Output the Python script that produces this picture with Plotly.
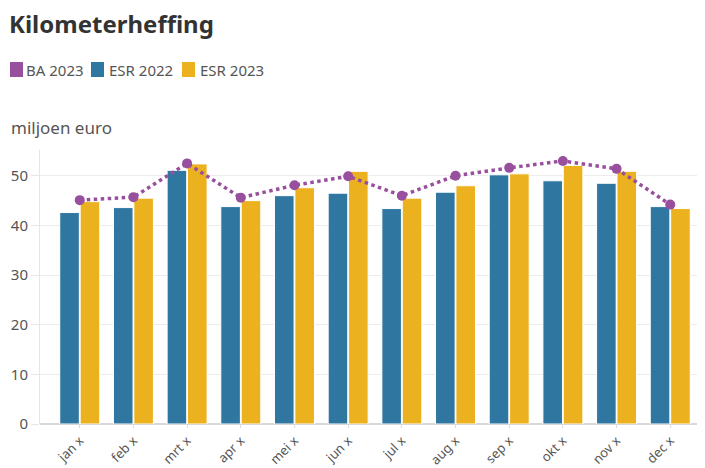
import plotly.graph_objects as go

months = ["jan x", "feb x", "mrt x", "apr x", "mei x", "jun x",
          "jul x", "aug x", "sep x", "okt x", "nov x", "dec x"]
esr_2022 = [42.6, 43.6, 51.1, 43.8, 46.0, 46.5, 43.4, 46.7, 50.2, 49.0, 48.5, 43.8]
esr_2023 = [44.8, 45.5, 52.4, 45.0, 47.6, 50.9, 45.5, 48.0, 50.4, 52.1, 50.9, 43.4]
ba_2023 = [45.1, 45.7, 52.5, 45.6, 48.1, 49.9, 46.0, 50.0, 51.6, 53.0, 51.4, 44.2]
legend_names = ["BA 2023", "ESR 2022", "ESR 2023"]

BLUE = "#2f77a1"
YELLOW = "#ecb11f"
PURPLE = "#984f9d"
FONT = "Noto Sans"

# page is offset by the 8px body margin; plot area runs slightly past the right edge
W, H = 702, 460
L, R, T, B = 32, 0, 142, 44
PW, PH = W - L - R, H - T - B


def px(xp):  # page x -> paper
    return (xp - 8 - L) / PW


def py(yp):  # page y -> paper
    return (H - B - (yp - 8)) / PH


fig = go.Figure()
fig.add_trace(go.Bar(x=months, y=esr_2022, name="ESR 2022",
                     marker=dict(color=BLUE, line=dict(color="white", width=1)), showlegend=False))
fig.add_trace(go.Bar(x=months, y=esr_2023, name="ESR 2023",
                     marker=dict(color=YELLOW, line=dict(color="white", width=1)), showlegend=False))
fig.add_trace(go.Scatter(x=months, y=ba_2023, name="BA 2023", mode="lines+markers",
                         line=dict(color=PURPLE, width=3.5, dash="dot"),
                         marker=dict(color=PURPLE, size=10), showlegend=False))

# custom legend
shapes, annotations = [], []
for name, col, sx, tx in zip(legend_names, [PURPLE, BLUE, YELLOW], [10, 91, 182], [24, 107, 198]):
    shapes.append(dict(type="rect", xref="paper", yref="paper", x0=px(sx), x1=px(sx + 13),
                       y0=py(77), y1=py(62), fillcolor=col, line=dict(width=0), layer="above"))
    annotations.append(dict(text=name, xref="paper", yref="paper", x=px(tx), y=py(70),
                            xanchor="left", yanchor="middle", showarrow=False,
                            font=dict(family=FONT, size=15, color="#555555")))

annotations.append(dict(text="miljoen euro", xref="paper", yref="paper", x=px(9), y=py(127),
                        xanchor="left", yanchor="middle", showarrow=False,
                        font=dict(family=FONT, size=17, color="#555555")))

fig.update_layout(
    width=W, height=H,
    paper_bgcolor="white", plot_bgcolor="white",
    font=dict(family=FONT, color="#555555", size=14),
    margin=dict(l=L, r=R, t=T, b=B, autoexpand=False),
    barmode="group", bargap=0.24, bargroupgap=0.04,
    showlegend=False,
    title=dict(text="<b>Kilometerheffing</b>", xref="container", x=1 / W, xanchor="left",
               yref="container", y=1 - 17 / H, yanchor="middle",
               font=dict(family=FONT, size=24, color="#333333")),
    shapes=shapes,
    annotations=annotations,
)
fig.update_xaxes(tickangle=-45, tickfont=dict(size=13, color="#555555"), showline=False, automargin=False,
                 ticks="outside", ticklen=3, tickcolor="#dddddd", showgrid=False)
fig.update_yaxes(range=[0, 55.2], dtick=10, showgrid=True, gridcolor="#ececec", automargin=False,
                 showline=True, linecolor="#e6e6e6", ticks="outside", ticklen=8, tickcolor="#e6e6e6",
                 tickfont=dict(size=15, color="#555555"), zeroline=True, zerolinecolor="#d8d8d8")

fig.write_html("out.html")
